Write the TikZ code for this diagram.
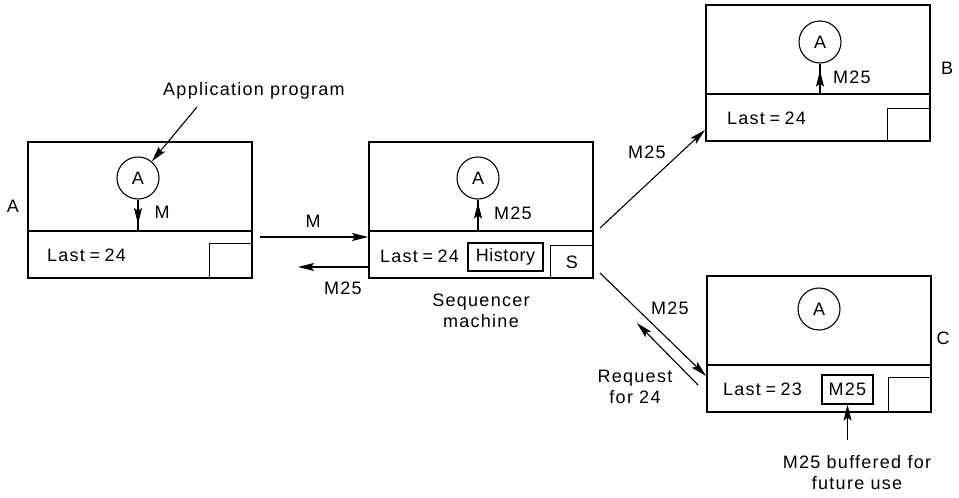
\documentclass[tikz,border=0pt]{standalone}
\usepackage{fontspec}
\setmainfont{Liberation Sans}[LetterSpace=7]
\usetikzlibrary{arrows.meta,calc}
\newcommand{\tsp}{\hspace{4.5pt}}
\begin{document}
\begin{tikzpicture}[x=1pt,y=-1pt,
  machine/.style={draw,line width=1.9pt,minimum width=224pt,minimum height=136pt,inner sep=0pt},
  slot/.style={draw,line width=1.2pt,minimum width=43pt,minimum height=35pt,inner sep=0pt,anchor=south east,font=\fontsize{18}{21}\selectfont},
  bufbox/.style={draw,line width=1.2pt,inner sep=0pt,font=\fontsize{18}{21}\selectfont},
  proc/.style={circle,draw,line width=1.1pt,minimum size=42pt,inner sep=0pt,font=\fontsize{18}{21}\selectfont},
  txt/.style={font=\fontsize{18}{21}\selectfont,inner sep=0pt},
  arr/.style={line width=1.1pt,-{Stealth[length=16pt,width=8pt,inset=3pt]}},
  ln/.style={line width=1.1pt}]
\useasboundingbox (0,0) rectangle (959,498);

% ---------- machine A ----------
\node[machine] (mA) at (140,210) {};
\coordinate (dAw) at ($(mA.south west)+(0,-48)$);
\coordinate (dAe) at ($(mA.south east)+(0,-48)$);
\draw[ln] (dAw) -- (dAe);
\node[slot] (sA) at (mA.south east) {};
\node[proc] (cA) at (138,178) {A};
\coordinate (dA) at (cA |- dAw);
\draw[ln] (cA.south) -- (dA);
\draw[arr] (cA.south) -- ($(dA)+(0,-7)$);
\node[txt] (lblMA) at (162,212) {M};
\node[txt] (nameA) at (13,206) {A};
\node[txt,anchor=west] (lastA) at (47,255) {Last\tsp=\tsp24};
\node[txt] (app) at (254,91) {Application program};
\coordinate (appfoot) at (197,107);
\draw[arr] (appfoot) -- (cA);

% ---------- sequencer ----------
\node[machine] (mS) at (481,210) {};
\coordinate (dSw) at ($(mS.south west)+(0,-48)$);
\coordinate (dSe) at ($(mS.south east)+(0,-48)$);
\draw[ln] (dSw) -- (dSe);
\node[slot,minimum height=33pt] (sS) at (mS.south east) {S};
\node[bufbox,minimum width=75pt,minimum height=28pt] (hist) at (505.5,257) {\addfontfeature{LetterSpace=3}History};
\node[txt,anchor=west] (lastS) at (380,256) {Last\tsp=\tsp24};
\node[proc] (cS) at (478,178) {A};
\coordinate (dS) at (cS |- dSw);
\draw[ln] (dS) -- (cS.south);
\draw[arr] (dS) -- ($(cS.south)+(0,3)$);
\node[txt] (lblMS) at (513,213) {M25};
\node[txt,align=center] (seqlab) at (481,311) {Sequencer\\machine};

% ---------- machine B ----------
\node[machine] (mB) at (818,73) {};
\coordinate (dBw) at ($(mB.south west)+(0,-48)$);
\coordinate (dBe) at ($(mB.south east)+(0,-48)$);
\draw[ln] (dBw) -- (dBe);
\node[slot,minimum height=33pt] (sB) at (mB.south east) {};
\node[proc] (cB) at (820,42) {A};
\coordinate (dB) at (cB |- dBw);
\draw[ln] (dB) -- (cB.south);
\draw[arr] (dB) -- ($(cB.south)+(0,7)$);
\node[txt] (lblMB) at (852,77) {M25};
\node[txt] (nameB) at (947,68) {B};
\node[txt,anchor=west] (lastB) at (727,118) {Last\tsp=\tsp24};

% ---------- machine C ----------
\node[machine] (mC) at (819,344) {};
\coordinate (dCw) at ($(mC.south west)+(0,-48)$);
\coordinate (dCe) at ($(mC.south east)+(0,-48)$);
\draw[ln] (dCw) -- (dCe);
\node[slot] (sC) at (mC.south east) {};
\node[proc] (cC) at (819,309) {A};
\node[bufbox,minimum width=51pt,minimum height=29pt] (buf) at (847.5,389.5) {M25};
\node[txt,anchor=west] (lastC) at (723,389) {Last\tsp=\tsp23};
\node[txt] (nameC) at (943,338) {C};

% ---------- messages ----------
\coordinate (mfrom) at (260,237);
\draw[arr] (mfrom) -- (mS.west |- mfrom);
\node[txt] (lblM) at (313,221) {M};
\coordinate (bto) at (298,267);
\draw[arr] (mS.west |- bto) -- (bto);
\node[txt] (lblM25a) at (343,288) {M25};

\coordinate (toBfrom) at (600,228);
\draw[arr] (toBfrom) -- ([yshift=12pt]mB.south west);
\node[txt] (lblM25b) at (647,152) {M25};

\coordinate (toCfrom) at (600,273);
\draw[arr] (toCfrom) -- ([yshift=37pt]mC.south west);
\node[txt] (lblM25c) at (670,308) {M25};

\coordinate (reqfrom) at (698,385);
\coordinate (reqto) at (637,323);
\draw[arr] (reqfrom) -- (reqto);
\node[txt,align=center] (req) at (635,387) {Request\\for 24};

\node[txt,align=center] (buftxt) at (857,473) {M25 buffered for\\future use};
\coordinate (buffoot) at (0,440);
\draw[arr] (buf.south |- buffoot) -- (buf.south);
\end{tikzpicture}
\end{document}
